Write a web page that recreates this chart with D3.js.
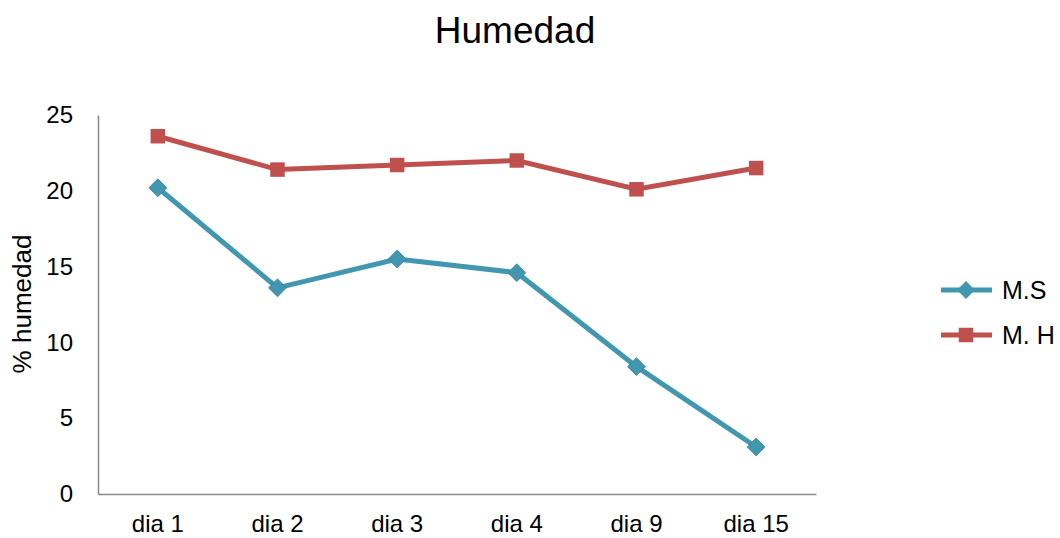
<!DOCTYPE html>
<html><head><meta charset="utf-8">
<script src="https://cdn.jsdelivr.net/npm/d3@7"></script>
<style>body{margin:0;background:#fff;} text{font-family:"Liberation Sans",Arial,sans-serif;}</style>
</head><body>
<svg id="c" width="1060" height="538"></svg>
<script>
const categories = ["dia 1","dia 2","dia 3","dia 4","dia 9","dia 15"];
const msValues = [20.2, 13.6, 15.5, 14.6, 8.4, 3.1];
const mhValues = [23.6, 21.4, 21.7, 22.0, 20.1, 21.5];
const yTicks = [0,5,10,15,20,25];
const seriesNames = ["M.S","M. H"];

(function(){
const svg = d3.select("#c");
const pLeft = 98, pRight = 816, pTop = 115, pBottom = 494;
const x = d3.scaleBand().domain(categories).range([pLeft, pRight]);
const y = d3.scaleLinear().domain([0,25]).range([pBottom, pTop]);

svg.append("text").attr("x",515).attr("y",43).attr("text-anchor","middle")
  .attr("font-size",37).attr("fill","#000").text("Humedad");

const gy = svg.append("g").attr("transform",`translate(${pLeft},0)`)
  .call(d3.axisLeft(y).tickValues(yTicks).tickSize(0).tickPadding(25));
gy.select(".domain").attr("stroke","#888").attr("stroke-width",1.5);
gy.selectAll("text").attr("font-size",24).attr("fill","#000")
  .style("font-family","Liberation Sans, Arial, sans-serif");

const gx = svg.append("g").attr("transform",`translate(0,${pBottom})`)
  .call(d3.axisBottom(x).tickSize(0).tickPadding(21));
gx.select(".domain").attr("stroke","#888").attr("stroke-width",1.5);
gx.selectAll("text").attr("font-size",24).attr("fill","#000")
  .style("font-family","Liberation Sans, Arial, sans-serif");

svg.append("text").attr("transform","translate(31,304) rotate(-90)")
  .attr("text-anchor","middle").attr("font-size",26).attr("fill","#000").text("% humedad");

const cx = d => x(d) + x.bandwidth()/2;
const line = d3.line().x((d,i)=>cx(categories[i])).y(d=>y(d));
const blue = "#4197B0", red = "#C0504D";

svg.append("path").datum(mhValues).attr("d",line).attr("fill","none")
  .attr("stroke",red).attr("stroke-width",5);
svg.append("path").datum(msValues).attr("d",line).attr("fill","none")
  .attr("stroke",blue).attr("stroke-width",5);

const sq = d3.symbol().type(d3.symbolSquare).size(210);
const dm = d3.symbol().type(d3.symbolSquare).size(160);

svg.selectAll(".mh").data(mhValues).enter().append("path")
  .attr("d",sq).attr("fill",red)
  .attr("transform",(d,i)=>`translate(${cx(categories[i])},${y(d)})`);
svg.selectAll(".ms").data(msValues).enter().append("path")
  .attr("d",dm).attr("fill",blue).attr("stroke","#3a8399").attr("stroke-width",0.8)
  .attr("transform",(d,i)=>`translate(${cx(categories[i])},${y(d)}) rotate(45)`);

const ly = [290, 335];
seriesNames.forEach((n,i)=>{
  const col = i===0?blue:red;
  svg.append("line").attr("x1",941).attr("x2",992).attr("y1",ly[i]).attr("y2",ly[i])
    .attr("stroke",col).attr("stroke-width",5);
  svg.append("path").attr("d", i===0?dm:sq).attr("fill",col)
    .attr("transform", i===0?`translate(966,${ly[i]}) rotate(45)`:`translate(966,${ly[i]})`);
  svg.append("text").attr("x",1002).attr("y",ly[i]+9).attr("font-size",25).attr("fill","#000").text(n);
});
})();
</script>
</body></html>
